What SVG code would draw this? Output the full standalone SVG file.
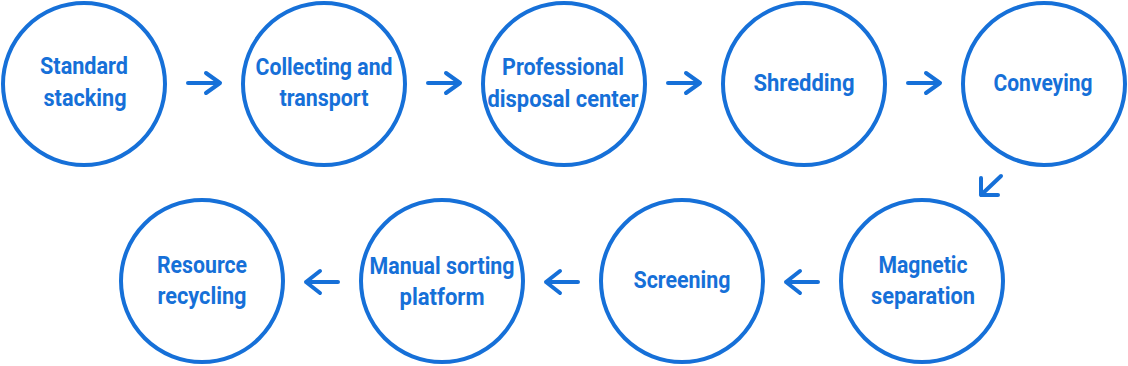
<svg xmlns="http://www.w3.org/2000/svg" width="1128" height="366" viewBox="0 0 1128 366">
<style>
.n{fill:#fff;stroke:#1670d8;stroke-width:4}
.t{font-family:"Liberation Sans Narrow","Roboto","Liberation Sans",sans-serif;font-weight:bold;font-size:24px;fill:#1670d8;text-anchor:middle}
.a{fill:none;stroke:#1670d8;stroke-width:4;stroke-linecap:round;stroke-linejoin:round}
</style>
<rect width="1128" height="366" fill="#fff"/>
<g id="n1"><circle class="n" cx="84" cy="84" r="81"/><text class="t" x="84" y="74" textLength="88" lengthAdjust="spacingAndGlyphs">Standard</text><text class="t" x="85" y="106" textLength="83" lengthAdjust="spacingAndGlyphs">stacking</text></g>
<g id="n2"><circle class="n" cx="324" cy="84" r="81"/><text class="t" x="324" y="75" textLength="137" lengthAdjust="spacingAndGlyphs">Collecting and</text><text class="t" x="324" y="106" textLength="89" lengthAdjust="spacingAndGlyphs">transport</text></g>
<g id="n3"><circle class="n" cx="564" cy="84" r="81"/><text class="t" x="563" y="75" textLength="122" lengthAdjust="spacingAndGlyphs">Professional</text><text class="t" x="563" y="107" textLength="151" lengthAdjust="spacingAndGlyphs">disposal center</text></g>
<g id="n4"><circle class="n" cx="804" cy="84" r="81"/><text class="t" x="804" y="91" textLength="101" lengthAdjust="spacingAndGlyphs">Shredding</text></g>
<g id="n5"><circle class="n" cx="1044" cy="84" r="81"/><text class="t" x="1043" y="91" textLength="99" lengthAdjust="spacingAndGlyphs">Conveying</text></g>
<g id="n6"><circle class="n" cx="922" cy="281" r="81"/><text class="t" x="923" y="273" textLength="89" lengthAdjust="spacingAndGlyphs">Magnetic</text><text class="t" x="923" y="304" textLength="104" lengthAdjust="spacingAndGlyphs">separation</text></g>
<g id="n7"><circle class="n" cx="682" cy="281" r="81"/><text class="t" x="682" y="288" textLength="97" lengthAdjust="spacingAndGlyphs">Screening</text></g>
<g id="n8"><circle class="n" cx="442" cy="281" r="81"/><text class="t" x="442" y="274" textLength="145" lengthAdjust="spacingAndGlyphs">Manual sorting</text><text class="t" x="442" y="305" textLength="85" lengthAdjust="spacingAndGlyphs">platform</text></g>
<g id="n9"><circle class="n" cx="202" cy="281" r="81"/><text class="t" x="202" y="273" textLength="90" lengthAdjust="spacingAndGlyphs">Resource</text><text class="t" x="202" y="304" textLength="89" lengthAdjust="spacingAndGlyphs">recycling</text></g>
<g id="connectors">
<path class="a" d="M188 83H220M206 73L220 83L206 93"/>
<path class="a" d="M428 83H460M446 73L460 83L446 93"/>
<path class="a" d="M668 83H700M686 73L700 83L686 93"/>
<path class="a" d="M908 83H940M926 73L940 83L926 93"/>
<path class="a" d="M1001 176L981 195M998 195H981V178"/>
<path class="a" d="M818 282H786M800 271L786 282L800 293"/>
<path class="a" d="M578 282H546M560 271L546 282L560 293"/>
<path class="a" d="M338 282H306M320 271L306 282L320 293"/>
</g>
</svg>
